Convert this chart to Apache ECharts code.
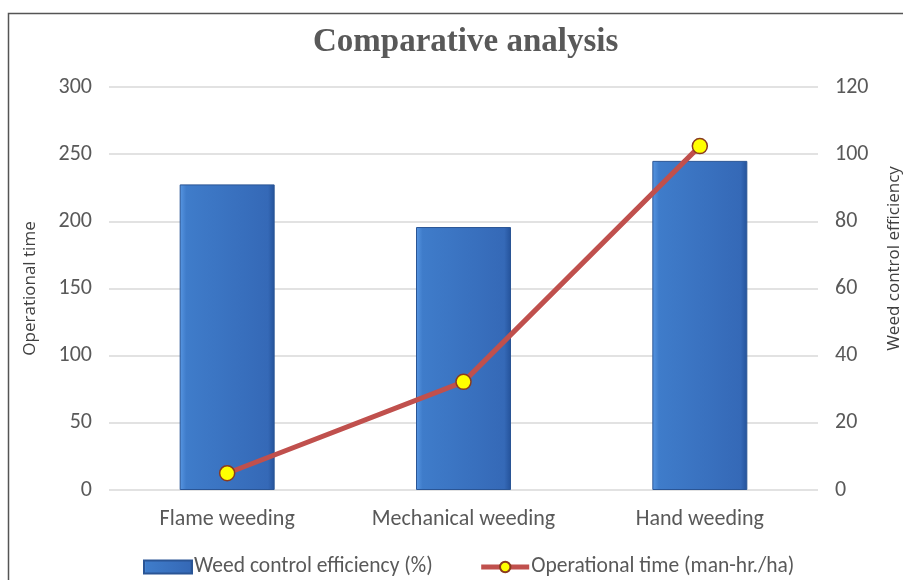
<!DOCTYPE html>
<html>
<head>
<meta charset="utf-8">
<script src="https://cdn.jsdelivr.net/npm/echarts@6/dist/echarts.min.js"></script>
<style>
html,body{margin:0;padding:0;background:#fff;}
#chart{width:903px;height:580px;}
</style>
</head>
<body>
<div id="chart"></div>
<script>
const categories = ['Flame weeding', 'Mechanical weeding', 'Hand weeding'];
const weedControlEfficiency = [91, 78.3, 98];
const operationalTime = [12.5, 80.5, 256];
const leftTicks = [0, 50, 100, 150, 200, 250, 300];
const rightTicks = [0, 20, 40, 60, 80, 100, 120];

const chart = echarts.init(document.getElementById('chart'));
const narrow = "Carlito, 'Liberation Sans Narrow', 'Arial Narrow', sans-serif";
const barColor = new echarts.graphic.LinearGradient(0, 0, 1, 0, [
  {offset: 0, color: '#5796e2'},
  {offset: 0.07, color: '#3f7cca'},
  {offset: 0.93, color: '#3569b7'},
  {offset: 1, color: '#24529a'}
]);
chart.setOption({
  animation: false,
  backgroundColor: '#fff',
  title: {
    text: 'Comparative analysis',
    left: 308,
    top: 21,
    textStyle: {fontFamily: "'Liberation Serif', 'Times New Roman', serif", fontWeight: 'bold', fontSize: 33, color: '#595959'}
  },
  graphic: [{
    type: 'rect',
    shape: {x: 8.5, y: 13.5, width: 1000, height: 1000},
    style: {fill: 'none', stroke: '#555', lineWidth: 1.5},
    silent: true
  }],
  legend: {
    top: 551,
    left: 138,
    itemGap: 46,
    itemWidth: 48,
    itemHeight: 13,
    textStyle: {fontFamily: narrow, fontSize: 21.5, color: '#595959', padding: [0, 0, 0, -3]},
    data: [
      {name: 'Weed control efficiency (%)', icon: 'rect'},
      {name: 'Operational time (man-hr./ha)', lineStyle: {width: 5}}
    ]
  },
  grid: {left: 109, right: 85, top: 87, bottom: 90, outerBoundsMode: 'none', containLabel: false},
  xAxis: {
    type: 'category',
    data: categories,
    axisLine: {show: false},
    axisTick: {show: false},
    axisLabel: {fontFamily: narrow, fontSize: 22, color: '#595959', margin: 18, interval: 0}
  },
  yAxis: [{
    type: 'value',
    min: 0, max: 300, interval: 50,
    name: 'Operational time',
    nameLocation: 'middle',
    nameRotate: 90,
    nameGap: 70,
    nameTextStyle: {fontFamily: "'Open Sans', 'DejaVu Sans', sans-serif", fontSize: 17, color: '#404040'},
    axisLine: {show: false},
    axisTick: {show: false},
    axisLabel: {fontFamily: narrow, fontSize: 22, color: '#595959', margin: 17,
      formatter: v => leftTicks.includes(v) ? String(v) : ''},
    splitLine: {lineStyle: {color: '#d9d9d9', width: 1.5}}
  }, {
    type: 'value',
    min: 0, max: 120, interval: 20,
    name: 'Weed control efficiency',
    nameLocation: 'middle',
    nameRotate: 90,
    nameGap: 68,
    nameTextStyle: {fontFamily: "'Open Sans', 'DejaVu Sans', sans-serif", fontSize: 17, color: '#404040', padding: [0, 0, 0, 60]},
    axisLine: {show: false},
    axisTick: {show: false},
    axisLabel: {fontFamily: narrow, fontSize: 22, color: '#595959', margin: 17,
      formatter: v => rightTicks.includes(v) ? String(v) : ''},
    splitLine: {show: false}
  }],
  series: [{
    name: 'Weed control efficiency (%)',
    type: 'bar',
    yAxisIndex: 1,
    data: weedControlEfficiency,
    barWidth: 95,
    itemStyle: {color: barColor, borderColor: '#2a5595', borderWidth: 1}
  }, {
    name: 'Operational time (man-hr./ha)',
    type: 'line',
    yAxisIndex: 0,
    data: operationalTime,
    symbol: 'circle',
    symbolSize: 15,
    lineStyle: {color: '#c0504d', width: 5},
    itemStyle: {color: '#ffff00', borderColor: '#8a3a1e', borderWidth: 1.5},
    z: 5
  }]
});
</script>
</body>
</html>
